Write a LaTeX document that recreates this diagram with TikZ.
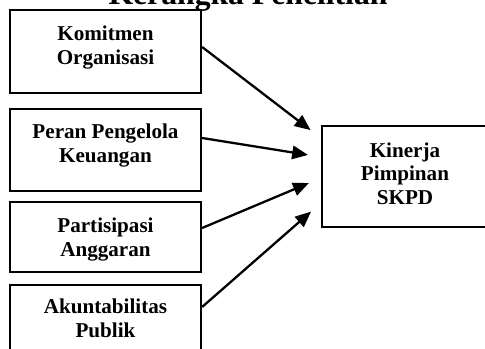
\documentclass[tikz,border=0pt]{standalone}
\usepackage{fontspec}
\setmainfont{Liberation Serif}
\usetikzlibrary{arrows.meta}
\begin{document}
\begin{tikzpicture}[x=0.5682pt,y=-0.5682pt,
  box/.style={draw, line width=1.3pt, inner sep=0pt, rectangle},
  lbl/.style={font=\bfseries\fontsize{12}{13.35}\selectfont, align=center, inner sep=0pt},
  arr/.style={line width=1.3pt, -{Triangle[length=9pt,width=7.6pt]}, shorten >=7.4pt}]
\useasboundingbox (0,0) rectangle (485,349);
% title
\node[font=\bfseries\fontsize{18}{21}\selectfont, anchor=base, inner sep=0pt] (title) at (248,5) {Kerangka Penelitian};
% boxes
\node[box, minimum width=108.5pt, minimum height=47.2pt] (b1) at (105.5,51.5) {};
\node[box, minimum width=108.5pt, minimum height=46.6pt] (b2) at (105.5,150) {};
\node[box, minimum width=108.5pt, minimum height=39.8pt] (b3) at (105.5,237) {};
\node[box, minimum width=108.5pt, minimum height=47.2pt] (b4) at (105.5,326.5) {};
\node[box, minimum width=94.3pt, minimum height=57.4pt] (k) at (405,176.5) {};
% labels
\node[lbl] (t1) at (105.5,48) {\strut Komitmen\\\strut Organisasi};
\node[lbl] (t2) at (105.5,146) {\strut Peran Pengelola\\\strut Keuangan};
\node[lbl] (t3) at (105.5,240) {\strut Partisipasi\\\strut Anggaran};
\node[lbl] (t4) at (105.5,321) {\strut Akuntabilitas\\\strut Publik};
\node[lbl] (tk) at (405,176) {\strut Kinerja\\\strut Pimpinan\\\strut SKPD};
% arrows
\draw[arr] (b1.east |- 0,47) -- (k.west |- 0,138);
\draw[arr] (b2.east |- 0,138) -- (k.west |- 0,157);
\draw[arr] (b3.east |- 0,228) -- (k.west |- 0,178);
\draw[arr] (b4.east |- 0,307) -- (k.west |- 0,203);
\end{tikzpicture}
\end{document}
